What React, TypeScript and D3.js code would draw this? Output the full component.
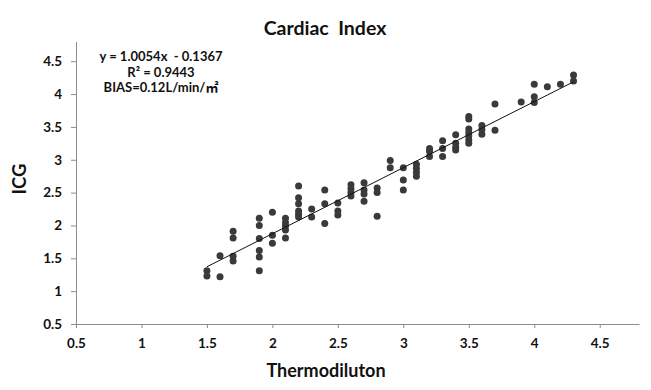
import React, { useRef, useEffect } from 'react';
import * as d3 from 'd3';

// paired readings, thermodilution (x) vs ICG (y)
const THERMO = [
  1.5, 1.5,
  1.6, 1.6,
  1.7, 1.7, 1.7, 1.7,
  1.9, 1.9, 1.9, 1.9, 1.9, 1.9,
  2.0, 2.0, 2.0,
  2.1, 2.1, 2.1, 2.1, 2.1,
  2.2, 2.2, 2.2, 2.2, 2.2, 2.2,
  2.3, 2.3,
  2.4, 2.4, 2.4,
  2.5, 2.5, 2.5,
  2.6, 2.6, 2.6, 2.6,
  2.7, 2.7, 2.7, 2.7,
  2.8, 2.8, 2.8,
  2.9, 2.9,
  3.0, 3.0, 3.0,
  3.1, 3.1, 3.1, 3.1,
  3.2, 3.2, 3.2,
  3.3, 3.3, 3.3,
  3.4, 3.4, 3.4, 3.4,
  3.5, 3.5, 3.5, 3.5, 3.5, 3.5, 3.5,
  3.6, 3.6, 3.6,
  3.7, 3.7,
  3.9,
  4.0, 4.0, 4.0,
  4.1,
  4.2,
  4.3, 4.3,
];
const ICG = [
  1.31, 1.23,
  1.54, 1.22,
  1.91, 1.81, 1.53, 1.46,
  2.11, 2.0, 1.8, 1.62, 1.52, 1.31,
  2.2, 1.85, 1.73,
  2.11, 2.04, 1.99, 1.93, 1.81,
  2.6, 2.42, 2.33, 2.22, 2.17, 2.13,
  2.25, 2.13,
  2.54, 2.33, 2.03,
  2.34, 2.22, 2.16,
  2.62, 2.56, 2.5, 2.45,
  2.65, 2.54, 2.48, 2.37,
  2.57, 2.5, 2.14,
  2.99, 2.88,
  2.88, 2.69, 2.54,
  2.93, 2.87, 2.81, 2.75,
  3.17, 3.13, 3.05,
  3.29, 3.17, 3.05,
  3.38, 3.25, 3.19, 3.15,
  3.66, 3.62, 3.47, 3.41, 3.36, 3.3, 3.25,
  3.52, 3.46, 3.39,
  3.85, 3.45,
  3.88,
  4.15, 3.96, 3.87,
  4.11,
  4.15,
  4.29, 4.2,
];

const X_TICKS = [0.5, 1, 1.5, 2, 2.5, 3, 3.5, 4, 4.5];
const Y_TICKS = [0.5, 1, 1.5, 2, 2.5, 3, 3.5, 4, 4.5];

// linear trendline shown on the chart
const TREND_SLOPE = 1.0054;
const TREND_INTERCEPT = -0.1367;
const TREND_RANGE = [1.5, 4.3];

const ANNOTATION = ['y = 1.0054x  - 0.1367', 'R² = 0.9443', 'BIAS=0.12L/min/㎡'];

const FONT = 'Lato, "Open Sans", "Noto Sans CJK SC", sans-serif';
const AXIS_COLOR = '#8c8c8c';

export default function App() {
  const svgRef = useRef<SVGSVGElement | null>(null);

  useEffect(() => {
    document.body.style.margin = '0';
    const width = 651;
    const height = 390;

    const svg = d3.select(svgRef.current);
    svg.selectAll('*').remove();

    const x = d3.scaleLinear().domain([0.5, 4.8]).range([76, 639]);
    const y = d3.scaleLinear().domain([0.5, 4.8]).range([324, 41.5]);

    svg.append('rect').attr('width', width).attr('height', height).attr('fill', '#fff');

    // title
    svg.append('text')
      .attr('x', 325)
      .attr('y', 35)
      .attr('text-anchor', 'middle')
      .attr('font-family', FONT)
      .attr('font-weight', 700)
      .attr('font-size', 19.5)
      .attr('fill', '#111')
      .style('white-space', 'pre')
      .text('Cardiac  Index');

    // x axis
    const gx = svg.append('g')
      .attr('transform', `translate(0,${y(0.5)})`)
      .call(d3.axisBottom(x).tickValues(X_TICKS).tickSize(4).tickSizeOuter(0).tickPadding(10)
        .tickFormat((d) => String(d)));
    gx.select('.domain').attr('stroke', AXIS_COLOR);
    gx.selectAll('line').attr('stroke', AXIS_COLOR);
    gx.selectAll('text')
      .attr('font-family', FONT)
      .attr('font-weight', 700)
      .attr('font-size', 13.5)
      .attr('fill', '#111');

    // y axis
    const gy = svg.append('g')
      .attr('transform', `translate(${x(0.5)},0)`)
      .call(d3.axisLeft(y).tickValues(Y_TICKS).tickSize(5).tickSizeOuter(0).tickPadding(9)
        .tickFormat((d) => String(d)));
    gy.select('.domain').attr('stroke', AXIS_COLOR);
    gy.selectAll('line').attr('stroke', AXIS_COLOR);
    gy.selectAll('text')
      .attr('font-family', FONT)
      .attr('font-weight', 700)
      .attr('font-size', 13.5)
      .attr('fill', '#111');

    // axis titles
    svg.append('text')
      .attr('x', 326)
      .attr('y', 377)
      .attr('text-anchor', 'middle')
      .attr('font-family', FONT)
      .attr('font-weight', 700)
      .attr('font-size', 18)
      .attr('fill', '#111')
      .text('Thermodiluton');

    svg.append('text')
      .attr('transform', 'translate(26,179) rotate(-90)')
      .attr('text-anchor', 'middle')
      .attr('font-family', FONT)
      .attr('font-weight', 700)
      .attr('font-size', 18.5)
      .attr('fill', '#111')
      .text('ICG');

    // points
    const pts = THERMO.map((t, i) => [t, ICG[i]] as [number, number]);
    svg.append('g')
      .selectAll('circle')
      .data(pts)
      .join('circle')
      .attr('cx', (d) => x(d[0]))
      .attr('cy', (d) => y(d[1]))
      .attr('r', 3.5)
      .attr('fill', '#3a3a3a');

    // trendline
    const line = d3.line<number>()
      .x((d) => x(d))
      .y((d) => y(TREND_SLOPE * d + TREND_INTERCEPT));
    svg.append('path')
      .datum(TREND_RANGE)
      .attr('d', line)
      .attr('stroke', '#111')
      .attr('stroke-width', 1)
      .attr('fill', 'none');

    // equation box
    const ann = svg.append('text')
      .attr('font-family', FONT)
      .attr('font-weight', 700)
      .attr('font-size', 13)
      .attr('fill', '#111')
      .attr('text-anchor', 'middle')
      .style('white-space', 'pre');
    ANNOTATION.forEach((s, i) => {
      ann.append('tspan')
        .attr('x', 161)
        .attr('y', 61 + i * 15.5)
        .text(s);
    });
  }, []);

  return <svg ref={svgRef} width={651} height={390} style={{ display: 'block' }} />;
}
